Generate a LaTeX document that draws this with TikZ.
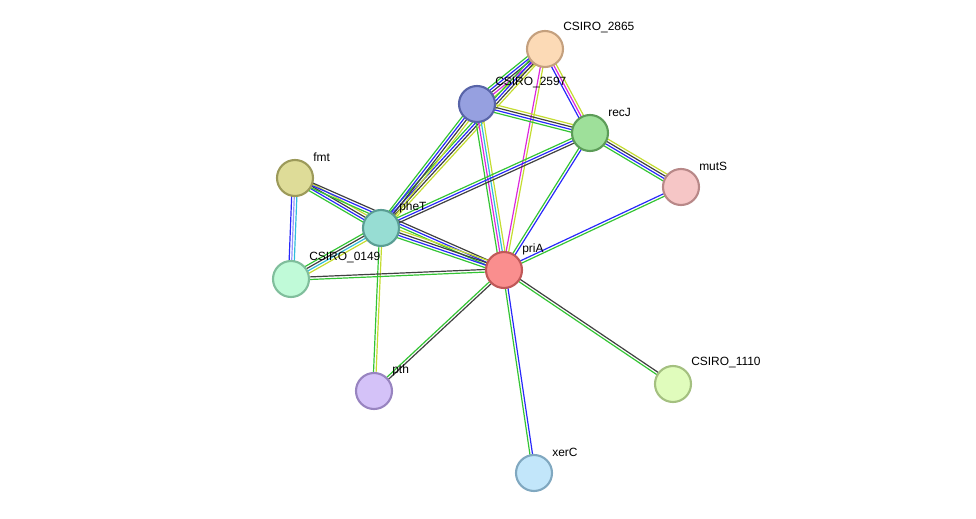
\documentclass[tikz,border=0pt]{standalone}
\usepackage{fontspec}
\setmainfont{Liberation Sans}
\usetikzlibrary{calc,backgrounds}
\definecolor{egreen}{RGB}{52,196,52}
\definecolor{eblue}{RGB}{40,40,250}
\definecolor{eblack}{RGB}{64,64,64}
\definecolor{emag}{RGB}{220,40,220}
\definecolor{eyel}{RGB}{196,220,48}
\definecolor{ecyan}{RGB}{48,188,220}
\definecolor{fa}{RGB}{252,218,182}\definecolor{da}{RGB}{196,160,126}
\definecolor{fb}{RGB}{150,160,224}\definecolor{db}{RGB}{88,100,168}
\definecolor{fc}{RGB}{158,224,154}\definecolor{dc}{RGB}{92,156,88}
\definecolor{fd}{RGB}{246,198,198}\definecolor{dd}{RGB}{184,136,136}
\definecolor{fe}{RGB}{222,220,152}\definecolor{de}{RGB}{156,154,90}
\definecolor{ff}{RGB}{151,221,211}\definecolor{df}{RGB}{90,158,148}
\definecolor{fg}{RGB}{192,250,216}\definecolor{dg}{RGB}{128,190,156}
\definecolor{fh}{RGB}{250,142,142}\definecolor{dh}{RGB}{192,88,88}
\definecolor{fi}{RGB}{212,194,248}\definecolor{di}{RGB}{152,132,192}
\definecolor{fj}{RGB}{224,252,188}\definecolor{dj}{RGB}{164,192,128}
\definecolor{fk}{RGB}{194,230,250}\definecolor{dk}{RGB}{128,168,192}

\newcommand{\gnode}[6]{%
  \node[prot, fill=#4, draw=#5] (#1) at (#2,#3) {};
  \node[lbl] (t#1) at (#2+18,#3-21) {#6};}
% parallel coloured lines between two nodes
\newcommand{\evid}[3]{%
  \foreach \c [count=\i] in {#3} {\xdef\nc{\i}}
  \foreach \c [count=\i] in {#3} {
    \pgfmathsetmacro{\off}{(\i-(\nc+1)/2)*2.6*0.025}
    \draw[edge, \c] ($(#1.center)!\off cm!90:(#2.center)$) -- ($(#2.center)!\off cm!-90:(#1.center)$);
  }}

\begin{document}
\begin{tikzpicture}[
    x=0.025cm, y=-0.025cm,
    prot/.style={circle, minimum size=0.9cm, inner sep=0pt, line width=1.5pt},
    lbl/.style={anchor=west, inner sep=0pt, font=\fontsize{8.5}{10}\selectfont},
    edge/.style={line width=0.85pt}
]
    \useasboundingbox (0,0) rectangle (976,519);
    \gnode{c2865}{545}{49}{fa}{da}{CSIRO\_2865}
    \gnode{c2597}{477}{104}{fb}{db}{CSIRO\_2597}
    \gnode{recJ}{590}{133}{fc}{dc}{recJ}
    \gnode{mutS}{681}{187}{fd}{dd}{mutS}
    \gnode{fmt}{295}{178}{fe}{de}{fmt}
    \gnode{pheT}{381}{228}{ff}{df}{pheT}
    \gnode{c0149}{291}{279}{fg}{dg}{CSIRO\_0149}
    \gnode{priA}{504}{270}{fh}{dh}{priA}
    \gnode{pth}{374}{391}{fi}{di}{pth}
    \gnode{c1110}{673}{384}{fj}{dj}{CSIRO\_1110}
    \gnode{xerC}{534}{473}{fk}{dk}{xerC}

    \begin{scope}[on background layer]
    \evid{c2865}{c2597}{egreen,eblue,eblack,emag,eyel}
    \evid{c2865}{pheT}{egreen,eblue,eblack,eyel}
    \evid{c2865}{recJ}{eblue,emag,eyel}
    \evid{c2865}{priA}{emag,eyel}
    \evid{c2597}{recJ}{egreen,eblue,eblack,eyel}
    \evid{c2597}{pheT}{egreen,eblue,eblack,eyel}
    \evid{c2597}{priA}{egreen,emag,ecyan,eyel}
    \evid{recJ}{mutS}{egreen,eblue,eblack,eyel}
    \evid{recJ}{pheT}{egreen,eblue,eblack}
    \evid{recJ}{priA}{egreen,eblue}
    \evid{mutS}{priA}{eblue,egreen}
    \evid{fmt}{pheT}{egreen,eblue,eblack,eyel}
    \evid{fmt}{c0149}{eblue,eblue!50,ecyan}
    \evid{fmt}{priA}{egreen,eblue,eblack}
    \evid{pheT}{priA}{egreen,eblue,eblack,eyel}
    \evid{pheT}{c0149}{egreen,eblack,ecyan,eyel}
    \evid{pheT}{pth}{egreen,eyel}
    \evid{c0149}{priA}{egreen,eblack}
    \evid{priA}{pth}{egreen,eblack}
    \evid{priA}{c1110}{egreen,eblack}
    \evid{priA}{xerC}{egreen,eblue}
    \end{scope}
\end{tikzpicture}
\end{document}
